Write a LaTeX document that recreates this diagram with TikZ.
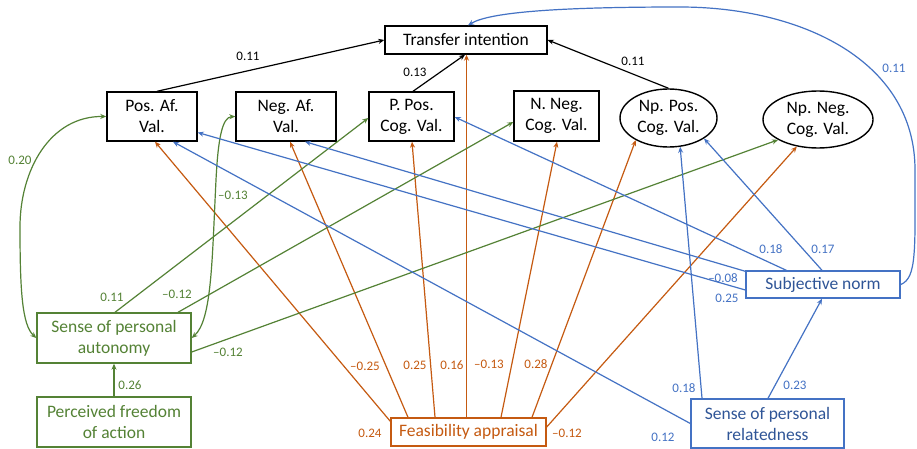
\documentclass[tikz,border=0pt]{standalone}
\usepackage{fontspec}
\setmainfont{Carlito}
\usetikzlibrary{shapes.geometric,arrows.meta,calc}
\definecolor{gr}{HTML}{548235}
\definecolor{org}{HTML}{C55A11}
\definecolor{bl}{HTML}{4472C4}
\definecolor{dbl}{HTML}{2F5597}
\begin{document}
\begin{tikzpicture}[x=1pt,y=-1pt,
 box/.style={draw, line width=1.4pt, inner sep=0pt, align=center, font=\fontsize{17.5}{21}\selectfont},
 ell/.style={box, ellipse},
 lab/.style={font=\fontsize{13}{15}\selectfont, inner sep=0pt},
 arr/.style={line width=1.2pt, -{Stealth[length=6pt,width=5pt]}},
 darr/.style={line width=1.2pt, {Stealth[length=6pt,width=5pt]}-{Stealth[length=6pt,width=5pt]}},
 gbox/.style={box, draw=gr, text=gr},
 obox/.style={box, draw=org, text=org},
 bbox/.style={box, draw=bl, text=dbl},
]
\useasboundingbox[fill=white] (0,0) rectangle (917,449);

% nodes
\node[box, minimum width=162, minimum height=28] (ti) at (466,40) {Transfer intention};
\node[box, minimum width=90, minimum height=49] (pa) at (152,116.5) {Pos. Af.\\Val.};
\node[box, minimum width=100, minimum height=49] (na) at (286,116.5) {Neg. Af.\\Val.};
\node[box, minimum width=85, minimum height=49] (ppc) at (411.5,116.5) {P. Pos.\\Cog. Val.};
\node[box, minimum width=85, minimum height=50] (nnc) at (556.5,116) {N. Neg.\\Cog. Val.};
\node[ell, minimum width=97, minimum height=58] (npp) at (668.5,118) {Np. Pos.\\Cog. Val.};
\node[ell, minimum width=110, minimum height=57] (npn) at (818,119.5) {Np. Neg.\\Cog. Val.};
\node[bbox, minimum width=154, minimum height=27] (sn) at (823,284.5) {Subjective norm};
\node[bbox, minimum width=153, minimum height=49] (spr) at (767.5,423.5) {Sense of personal\\relatedness};
\node[obox, minimum width=155, minimum height=28] (fa) at (468.5,432) {Feasibility appraisal};
\node[gbox, minimum width=154, minimum height=50] (spa) at (114,338) {Sense of personal\\autonomy};
\node[gbox, minimum width=154, minimum height=50] (pfa) at (114,422) {Perceived freedom\\of action};

% black connectors
\draw[arr] ($(pa.north)+(5,0)$) -- (ti.west);
\draw[arr] ($(ppc.north)+(1.5,0)$) -- ($(ti.south)+(-1,0)$);
\draw[arr] (npp.north) -- (ti.east);

% blue curve
\draw[arr, bl] (sn.east) .. controls (917,278) and (915,250) .. (915,170)
  .. controls (915,60) and (800,7) .. (680,7)
  .. controls (560,7) and (490,12) .. ($(ti.north)+(2,0)$);

% orange connectors
\begin{scope}[org]
\draw[arr] ($(fa.north west)+(0,4)$) -- ($(pa.south)+(3,0)$);
\draw[arr] ($(fa.north)+(-60.5,0)$) -- ($(na.south)+(4,0)$);
\draw[arr] ($(fa.north)+(-33.5,0)$) -- ($(ppc.south)+(0.5,0)$);
\draw[arr] ($(fa.north)+(-2,0)$) -- ($(ti.south)+(0.5,0)$);
\draw[arr] ($(fa.north)+(32.5,0)$) -- ($(nnc.south)+(0.5,0)$);
\draw[arr] ($(fa.north)+(63.5,0)$) -- (npp.214);
\draw[arr] ($(fa.east)+(0,-5)$) -- (npn.232);
\end{scope}

% green connectors
\begin{scope}[gr]
\draw[darr] (pa.west) .. controls (50,116) and (20,170) .. (20,227)
  .. controls (20,290) and (22,325) .. (spa.west);
\draw[darr] (na.west) .. controls (222,117) and (218,140) .. (216,180)
  .. controls (212,260) and (212,320) .. (spa.east);
\draw[arr] ($(spa.north)+(1,0)$) -- ($(ppc.west)+(0,1.5)$);
\draw[arr] ($(spa.north)+(64,0)$) -- ($(nnc.west)+(0,6)$);
\draw[arr] ($(spa.east)+(0,14)$) -- (npn.207);
\draw[arr] (pfa.north) -- (spa.south);
\end{scope}

% blue connectors
\begin{scope}[bl]
\draw[arr] ($(sn.north west)+(41,0)$) -- ($(ppc.east)+(0,0.5)$);
\draw[arr] ($(sn.north west)+(0,1)$) -- ($(na.south)+(19,0)$);
\draw[arr] ($(sn.west)+(0,5.5)$) -- ($(pa.east)+(0,16)$);
\draw[arr] ($(sn.north)+(-1,0)$) -- (npp.-30);
\draw[arr] ($(spr.north)+(0.5,0)$) -- ($(sn.south)+(-1,0)$);
\draw[arr] ($(spr.north)+(-65.5,0)$) -- (npp.-68);
\draw[arr] (spr.west) -- ($(pa.south)+(21,0)$);
\end{scope}

% labels black
\node[lab] (l1) at (248,56) {0.11};
\node[lab] (l2) at (415,72) {0.13};
\node[lab] (l3) at (633,61) {0.11};
% labels blue
\node[lab, text=bl] (l4) at (894,68) {0.11};
\node[lab, text=bl] (l5) at (771,249) {0.18};
\node[lab, text=bl] (l6) at (823,249) {0.17};
\node[lab, text=bl] (l7) at (723,278) {–0.08};
\node[lab, text=bl] (l8) at (727,298) {0.25};
\node[lab, text=bl] (l9) at (684,388) {0.18};
\node[lab, text=bl] (l10) at (795,385) {0.23};
\node[lab, text=bl] (l11) at (663,437) {0.12};
% labels orange
\node[lab, text=org] (l12) at (370,433) {0.24};
\node[lab, text=org] (l13) at (365,366) {–0.25};
\node[lab, text=org] (l14) at (415,365) {0.25};
\node[lab, text=org] (l15) at (452,365) {0.16};
\node[lab, text=org] (l16) at (489,364) {–0.13};
\node[lab, text=org] (l17) at (536,364) {0.28};
\node[lab, text=org] (l18) at (567,433) {–0.12};
% labels green
\node[lab, text=gr] (l19) at (20,160) {0.20};
\node[lab, text=gr] (l20) at (233,195) {–0.13};
\node[lab, text=gr] (l21) at (112,297) {0.11};
\node[lab, text=gr] (l22) at (177,294) {–0.12};
\node[lab, text=gr] (l23) at (228,352) {–0.12};
\node[lab, text=gr] (l24) at (130,385) {0.26};
\end{tikzpicture}
\end{document}
